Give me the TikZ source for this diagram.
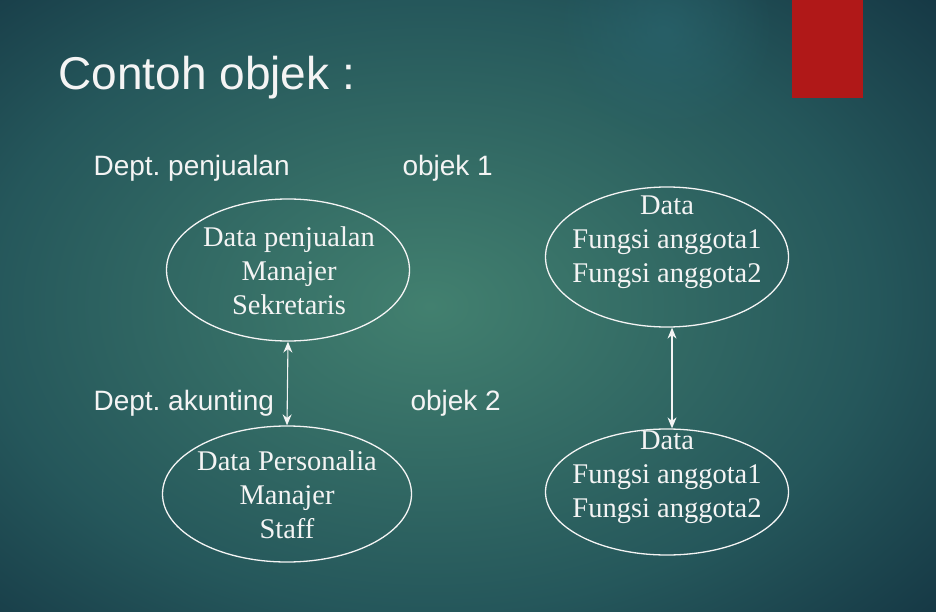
\documentclass[tikz,border=0pt]{standalone}
\usepackage{fontspec}
\setmainfont{Liberation Serif}
\setsansfont{Liberation Sans}
\usetikzlibrary{shapes.geometric,arrows.meta,fadings}
\definecolor{latdalam}{HTML}{42806F}
\definecolor{lattengah}{HTML}{25575B}
\definecolor{latluar}{HTML}{153744}
\definecolor{sorot}{HTML}{2A6670}
\definecolor{merah}{HTML}{B01818}
\definecolor{putih}{HTML}{F4F4F4}
\pgfdeclareradialshading{latar}{\pgfpointorigin}{color(0bp)=(latdalam); color(22bp)=(lattengah); color(34bp)=(latluar); color(50bp)=(latluar)}
\tikzfading[name=pudar, inner color=transparent!0, outer color=transparent!100]
\frenchspacing

\begin{document}
\begin{tikzpicture}[x=1pt,y=-1pt,
oval/.style={ellipse,draw=putih,line width=1.3pt,inner sep=0pt},
isi/.style={putih,align=center,font=\fontsize{28.5}{34}\selectfont},
judul/.style={putih,anchor=base west,font=\sffamily\fontsize{46}{50}\selectfont},
dept/.style={putih,anchor=base west,font=\sffamily\fontsize{28}{32}\selectfont},
panah/.style={putih,line width=1.1pt,{Stealth[length=11pt,width=9pt]}-{Stealth[length=11pt,width=9pt]}},
]

\useasboundingbox (0,0) rectangle (936,612);
\begin{scope}
\clip (0,0) rectangle (936,612);
\shade[shading=latar] (-76,-40) rectangle (936,652);
\fill[sorot,opacity=0.6,path fading=pudar] (665,30) circle (110);
\end{scope}

%\draw[help lines,yellow,thin] (0,0) grid[step=50] (936,612);

\fill[merah] (792,0) rectangle (863,98);

\node [judul] (jd) at (55,90){Contoh objek :};

\node [dept] (d1) at (90,176){Dept. penjualan};
\node [dept] (o1) at (399,176){objek 1};
\node [dept] (d2) at (90,410){Dept. akunting};
\node [dept] (o2) at (407,410){objek 2};

\node [oval,minimum width=243pt,minimum height=142pt] (e1) at (288,270){};
\node [oval,minimum width=249pt,minimum height=136pt] (e2) at (287,494){};
\node [oval,minimum width=243pt,minimum height=140pt] (e3) at (667,257){};
\node [oval,minimum width=243pt,minimum height=126pt] (e4) at (667,492){};

\node [isi] (t1) at (289,271){Data penjualan\\Manajer\\Sekretaris};
\node [isi] (t2) at (287,495){Data Personalia\\Manajer\\Staff};
\node [isi] (t3) at (667,242){Data\\Fungsi anggota1\\Fungsi anggota2};
\node [isi] (t4) at (667,477){Data\\Fungsi anggota1\\Fungsi anggota2};

\draw[panah] (e1.south) -- (e2.north);
\draw[panah] ([xshift=5pt]e3.south) -- ([xshift=5pt]e4.north);
\end{tikzpicture}
\end{document}
